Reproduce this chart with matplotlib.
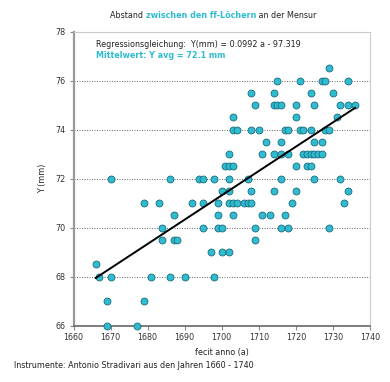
import matplotlib
matplotlib.use("Agg")
import matplotlib.pyplot as plt
import numpy as np

plt.rcParams['font.family'] = ['DejaVu Sans']

# Data: (y value in mm) -> list of years
rows = {
    76.5: [1729],
    76.0: [1715, 1721, 1727, 1728, 1734],
    75.5: [1708, 1714, 1724, 1730],
    75.0: [1709, 1714, 1715, 1716, 1720, 1725, 1732, 1734, 1736],
    74.5: [1703, 1720, 1731],
    74.0: [1703, 1704, 1708, 1710, 1717, 1718, 1721, 1722, 1724, 1728, 1729],
    73.5: [1712, 1716, 1725, 1727],
    73.0: [1702, 1711, 1714, 1716, 1718, 1722, 1723, 1724, 1725, 1726, 1727],
    72.5: [1701, 1702, 1703, 1720, 1723, 1724],
    72.0: [1670, 1686, 1694, 1695, 1698, 1702, 1707, 1716, 1725, 1732],
    71.5: [1700, 1702, 1708, 1714, 1720, 1734],
    71.0: [1679, 1683, 1692, 1695, 1699, 1702, 1703, 1704, 1706, 1707, 1708, 1719, 1733],
    70.5: [1687, 1699, 1703, 1711, 1713, 1717],
    70.0: [1684, 1695, 1699, 1700, 1709, 1716, 1718, 1729],
    69.5: [1684, 1687, 1688, 1709],
    69.0: [1697, 1700, 1702],
    68.5: [1666],
    68.0: [1667, 1670, 1681, 1686, 1690, 1698],
    67.0: [1669, 1679],
    66.0: [1669, 1677],
}
years = [yr for yv, yrs in rows.items() for yr in yrs]
values = [yv for yv, yrs in rows.items() for yr in yrs]

slope = 0.0992
intercept = -97.319
line_years = [1666, 1736]

x_ticks = [1660, 1670, 1680, 1690, 1700, 1710, 1720, 1730, 1740]
y_ticks = [66, 68, 70, 72, 74, 76, 78]

cyan = '#2fbbd0'
fs = 5.8
fig = plt.figure(figsize=(3.9, 3.82), dpi=100)
ax = fig.add_axes([0.1885, 0.1474, 0.760, 0.7696])

ax.set_xlim(1660, 1740)
ax.set_ylim(66, 78)
ax.set_xticks(x_ticks)
ax.set_yticks(y_ticks)
ax.tick_params(labelsize=fs, colors='#333333', length=3, width=0.8, pad=2.5)
ax.tick_params(axis='both', color='#888888')

for yv in y_ticks[1:-1]:
    ax.axhline(yv, color='#555555', lw=0.6, ls=(0, (1.2, 1.8)), zorder=1)

ax.spines['left'].set_color('#999999'); ax.spines['left'].set_linewidth(1.6)
ax.spines['bottom'].set_color('#666666'); ax.spines['bottom'].set_linewidth(1.2)
ax.spines['top'].set_color('#cccccc'); ax.spines['top'].set_linewidth(0.8)
ax.spines['right'].set_color('#cccccc'); ax.spines['right'].set_linewidth(0.8)

ax.scatter(years, values, s=25, c=cyan, edgecolors='#1b6d7d', linewidths=0.6, zorder=3, clip_on=False)
lx = np.array(line_years, dtype=float)
ax.plot(lx, slope * lx + intercept, color='black', lw=1.4, zorder=4)

ax.set_xlabel('fecit anno (a)', fontsize=fs, color='#222222', labelpad=4)
ax.set_ylabel('Y (mm)', fontsize=fs, color='#222222', labelpad=6)

ax.text(0.075, 0.955, 'Regressionsgleichung:  Y(mm) = 0.0992 a - 97.319', transform=ax.transAxes,
        fontsize=fs, color='#222222', va='center')
ax.text(0.075, 0.918, 'Mittelwert: Y avg = 72.1 mm', transform=ax.transAxes,
        fontsize=fs, color=cyan, fontweight='bold', va='center')

# Title with mixed colours
t1 = fig.text(110/390, 1 - 15/382, 'Abstand ', fontsize=fs, color='#222222', va='center', ha='left')
t2 = ax.annotate('zwischen den ff-Löchern', xy=(1, 0.5), xycoords=t1, va='center', ha='left',
                 fontsize=fs, color=cyan, fontweight='bold')
t3 = ax.annotate(' an der Mensur', xy=(1, 0.5), xycoords=t2, va='center', ha='left',
                 fontsize=fs, color='#222222')

fig.text(14/390, 1 - 365/382, 'Instrumente: Antonio Stradivari aus den Jahren 1660 - 1740',
         fontsize=fs, color='#222222', va='center', ha='left')

fig.savefig('out.png', dpi=100)
